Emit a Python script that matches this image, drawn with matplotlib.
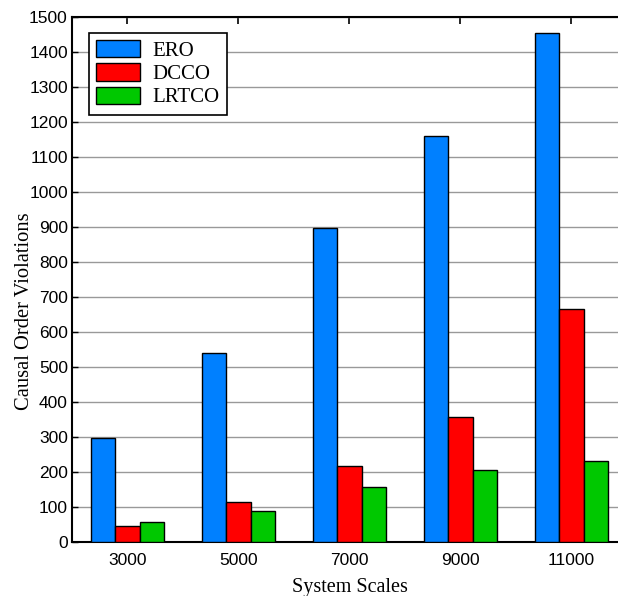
import matplotlib
matplotlib.use('Agg')
import matplotlib.pyplot as plt
import numpy as np

# Data
scales = ['3000', '5000', '7000', '9000', '11000']
ero = [297, 541, 897, 1159, 1455]
dcco = [47, 113, 216, 356, 665]
lrtco = [58, 88, 157, 205, 230]

series = [('ERO', ero, '#0080ff'), ('DCCO', dcco, '#ff0000'), ('LRTCO', lrtco, '#00c800')]

fig = plt.figure(figsize=(6.18, 5.96), dpi=100)
ax = fig.add_axes([0.1165, 0.0906, 0.898, 0.881])

x = np.arange(len(scales))
width = 0.22
for i, (name, vals, color) in enumerate(series):
    ax.bar(x + (i - 1) * width, vals, width, color=color, edgecolor='black',
           linewidth=1.0, label=name, zorder=3)

ax.set_xlim(-0.5, 4.5)
ax.set_ylim(0, 1500)
ax.set_yticks(range(0, 1501, 100))
ax.set_xticks(x)
ax.set_xticklabels(scales)

ax.yaxis.grid(True, color='#999999', linewidth=1.0, zorder=0)
ax.set_axisbelow(True)

for lbl in ax.get_xticklabels() + ax.get_yticklabels():
    lbl.set_fontfamily('Liberation Sans')
    lbl.set_fontsize(12.5)
ax.tick_params(axis='x', direction='in', top=True, bottom=True, length=5, width=1.2, pad=8)
ax.tick_params(axis='y', direction='in', length=4, width=1.0, pad=3)

for s in ax.spines.values():
    s.set_linewidth(1.5)

ax.set_xlabel('System Scales', fontfamily='Liberation Serif', fontsize=14.5, labelpad=7)
ax.set_ylabel('Causal Order Violations', fontfamily='Liberation Serif', fontsize=14.8)
ax.yaxis.set_label_coords(-0.068, 0.44)

leg = ax.legend(loc='upper left', bbox_to_anchor=(0.031, 0.970), borderaxespad=0,
                fancybox=False, framealpha=1, edgecolor='black',
                prop={'family': 'Liberation Serif', 'size': 15},
                handlelength=2.1, handleheight=0.9, labelspacing=0.12, borderpad=0.35,
                handletextpad=0.6)
leg.get_frame().set_linewidth(1.2)

plt.savefig('out.png', dpi=100)
